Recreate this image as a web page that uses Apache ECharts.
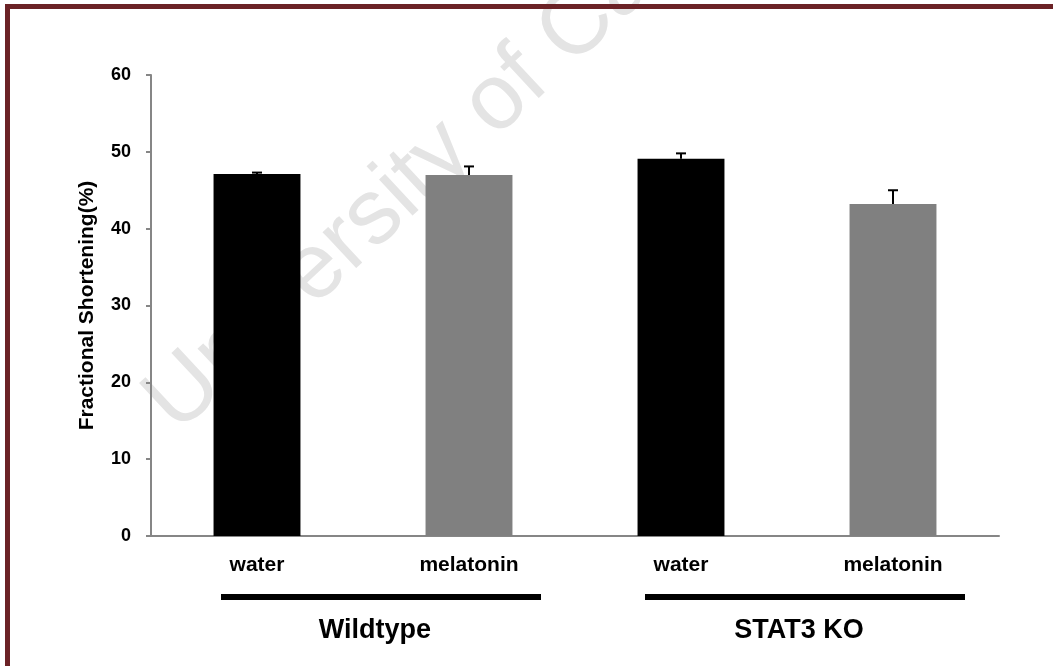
<!DOCTYPE html>
<html>
<head>
<meta charset="utf-8">
<script src="https://cdn.jsdelivr.net/npm/echarts@6/dist/echarts.min.js"></script>
<style>
  html, body { margin: 0; padding: 0; background: #fff; }
  #chart { width: 1053px; height: 666px; }
</style>
</head>
<body>
<div id="chart"></div>
<script>
var categories = ['water', 'melatonin', 'water', 'melatonin'];
var fsValues = [47.1, 47.0, 49.1, 43.2];
var fsErrors = [0.2, 1.1, 0.7, 1.8];
var barColors = ['#000000', '#808080', '#000000', '#808080'];
var groupNames = ['Wildtype', 'STAT3 KO'];
var groupSpans = [[0, 1], [2, 3]];

var chart = echarts.init(document.getElementById('chart'));
var font = '"Liberation Sans", Arial, sans-serif';

var barData = fsValues.map(function (v, i) {
    return {value: v, itemStyle: {color: barColors[i]}};
});
var errData = fsValues.map(function (v, i) {
    return [i, v, v + fsErrors[i]];
});

var option = {
    animation: false,
    backgroundColor: '#fff',
    textStyle: {fontFamily: font},
    grid: {left: 151, top: 75, right: 54, bottom: 130},
    xAxis: {
        type: 'category',
        data: categories,
        axisLine: {lineStyle: {color: '#868686', width: 2}},
        axisTick: {length: 5, lineStyle: {color: '#868686', width: 2}},
        axisLabel: {color: '#000', fontWeight: 'bold', fontSize: 21, margin: 19, fontFamily: font}
    },
    yAxis: {
        type: 'value',
        min: 0,
        max: 60,
        interval: 10,
        name: 'Fractional Shortening(%)',
        nameLocation: 'middle',
        nameGap: 53,
        nameTextStyle: {color: '#000', fontWeight: 'bold', fontSize: 21, fontFamily: font},
        splitLine: {show: false},
        axisLine: {show: true, lineStyle: {color: '#868686', width: 2}},
        axisTick: {show: true, length: 5, lineStyle: {color: '#868686', width: 2}},
        axisLabel: {color: '#000', fontWeight: 'bold', fontSize: 18, margin: 20, fontFamily: font}
    },
    graphic: [
        {
            type: 'rect',
            z: 100,
            shape: {x: 7.5, y: 6.5, width: 1200, height: 800},
            style: {fill: 'none', stroke: '#6b2226', lineWidth: 5}
        },
        {
            type: 'text',
            z: -10,
            x: 160,
            y: 416,
            rotation: Math.PI * 43 / 180,
            style: {
                text: 'University of Cape Town',
                x: 0, y: 0,
                fontSize: 93,
                fontFamily: font,
                fill: '#e4e4e4',
                textAlign: 'left',
                textVerticalAlign: 'middle'
            }
        }
    ],
    series: [
        {
            type: 'bar',
            data: barData,
            barWidth: '41%',
            z: 2
        },
        {
            type: 'custom',
            z: 3,
            data: errData,
            renderItem: function (params, api) {
                var x = api.value(0);
                var lo = api.coord([x, api.value(1)]);
                var hi = api.coord([x, api.value(2)]);
                var style = {stroke: '#000', lineWidth: 2};
                return {
                    type: 'group',
                    children: [
                        {type: 'line', shape: {x1: lo[0], y1: lo[1], x2: hi[0], y2: hi[1]}, style: style},
                        {type: 'line', shape: {x1: hi[0] - 5, y1: hi[1], x2: hi[0] + 5, y2: hi[1]}, style: style}
                    ]
                };
            }
        }
    ]
};

chart.setOption(option);

// group brackets under the category labels
var extra = [];
groupSpans.forEach(function (span, i) {
    var x1 = chart.convertToPixel({xAxisIndex: 0}, span[0]) - 36;
    var x2 = chart.convertToPixel({xAxisIndex: 0}, span[1]) + 72;
    extra.push({
        type: 'rect',
        shape: {x: x1, y: 594, width: x2 - x1, height: 6},
        style: {fill: '#000'}
    });
    extra.push({
        type: 'text',
        x: (x1 + x2) / 2 - 6,
        y: 631,
        style: {
            text: groupNames[i],
            fontSize: 27,
            fontWeight: 'bold',
            fontFamily: font,
            fill: '#000',
            textAlign: 'center',
            textVerticalAlign: 'middle'
        }
    });
});
chart.setOption({graphic: option.graphic.concat(extra)});
</script>
</body>
</html>
